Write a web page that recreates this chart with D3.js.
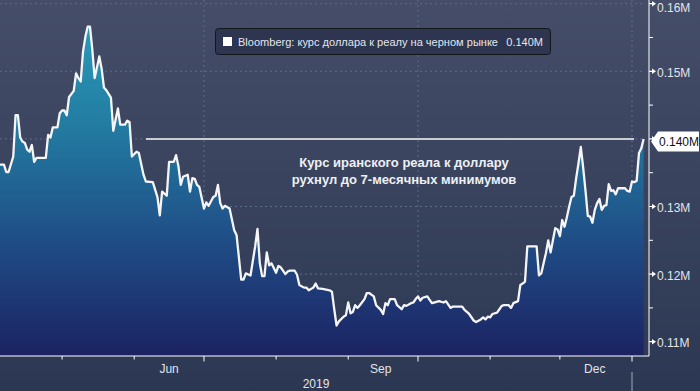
<!DOCTYPE html>
<html>
<head>
<meta charset="utf-8">
<script src="https://cdn.jsdelivr.net/npm/d3@7"></script>
<style>
  html, body { margin: 0; padding: 0; background: #2e3a55; }
  svg { display: block; font-family: "Liberation Sans", Arial, sans-serif; }
</style>
</head>
<body>
<div id="viz"></div>
<script>
const width = 700;
const height = 391;
const plotRight = 645;
const axisX = 649;
const plotBottom = 356;

// black market USD rate in rials, thousands
const dates = [
  '2019-04-04', '2019-04-06', '2019-04-07', '2019-04-08', '2019-04-10', '2019-04-11', '2019-04-12', '2019-04-13',
  '2019-04-14', '2019-04-15', '2019-04-16', '2019-04-17', '2019-04-18', '2019-04-19', '2019-04-20', '2019-04-24',
  '2019-04-25', '2019-04-26', '2019-04-27', '2019-04-29', '2019-04-30', '2019-05-01', '2019-05-02', '2019-05-03',
  '2019-05-04', '2019-05-06', '2019-05-07', '2019-05-08', '2019-05-09', '2019-05-10', '2019-05-11', '2019-05-12',
  '2019-05-13', '2019-05-14', '2019-05-15', '2019-05-17', '2019-05-18', '2019-05-19', '2019-05-20', '2019-05-22',
  '2019-05-23', '2019-05-25', '2019-05-26', '2019-05-28', '2019-05-29', '2019-05-30', '2019-05-31', '2019-06-02',
  '2019-06-03', '2019-06-05', '2019-06-06', '2019-06-09', '2019-06-11', '2019-06-12', '2019-06-13', '2019-06-15',
  '2019-06-16', '2019-06-18', '2019-06-19', '2019-06-20', '2019-06-21', '2019-06-22', '2019-06-24', '2019-06-25',
  '2019-06-26', '2019-06-27', '2019-06-28', '2019-06-29', '2019-07-01', '2019-07-02', '2019-07-03', '2019-07-05',
  '2019-07-06', '2019-07-07', '2019-07-08', '2019-07-09', '2019-07-10', '2019-07-12', '2019-07-14', '2019-07-15',
  '2019-07-17', '2019-07-18', '2019-07-19', '2019-07-21', '2019-07-23', '2019-07-24', '2019-07-25', '2019-07-26',
  '2019-07-27', '2019-07-28', '2019-07-29', '2019-07-30', '2019-07-31', '2019-08-01', '2019-08-02', '2019-08-03',
  '2019-08-05', '2019-08-06', '2019-08-07', '2019-08-09', '2019-08-10', '2019-08-11', '2019-08-13', '2019-08-14',
  '2019-08-15', '2019-08-17', '2019-08-18', '2019-08-19', '2019-08-21', '2019-08-24', '2019-08-25', '2019-08-26',
  '2019-08-27', '2019-08-28', '2019-08-30', '2019-08-31', '2019-09-01', '2019-09-02', '2019-09-03', '2019-09-04',
  '2019-09-05', '2019-09-06', '2019-09-08', '2019-09-09', '2019-09-10', '2019-09-12', '2019-09-13', '2019-09-15',
  '2019-09-16', '2019-09-17', '2019-09-18', '2019-09-19', '2019-09-21', '2019-09-22', '2019-09-24', '2019-09-25',
  '2019-09-26', '2019-09-28', '2019-09-29', '2019-09-30', '2019-10-01', '2019-10-02', '2019-10-03', '2019-10-05',
  '2019-10-06', '2019-10-07', '2019-10-09', '2019-10-10', '2019-10-12', '2019-10-13', '2019-10-15', '2019-10-16',
  '2019-10-20', '2019-10-21', '2019-10-23', '2019-10-25', '2019-10-26', '2019-10-28', '2019-10-29', '2019-10-30',
  '2019-10-31', '2019-11-01', '2019-11-02', '2019-11-04', '2019-11-05', '2019-11-06', '2019-11-07', '2019-11-09',
  '2019-11-10', '2019-11-11', '2019-11-13', '2019-11-14', '2019-11-15', '2019-11-16', '2019-11-17', '2019-11-21',
  '2019-11-22', '2019-11-23', '2019-11-24', '2019-11-25', '2019-11-26', '2019-11-27', '2019-11-28', '2019-11-29',
  '2019-11-30', '2019-12-01', '2019-12-02', '2019-12-03', '2019-12-04', '2019-12-05', '2019-12-06', '2019-12-07',
  '2019-12-08', '2019-12-09', '2019-12-10', '2019-12-11', '2019-12-12', '2019-12-13', '2019-12-14', '2019-12-15',
  '2019-12-16', '2019-12-17', '2019-12-18', '2019-12-19', '2019-12-20', '2019-12-21', '2019-12-22', '2019-12-23',
  '2019-12-24', '2019-12-25', '2019-12-26', '2019-12-29', '2019-12-30', '2019-12-31', '2020-01-01', '2020-01-02',
  '2020-01-03', '2020-01-04', '2020-01-05', '2020-01-06'
];
const rates = [
  136.2, 136.2, 135.1, 135.1, 137.4, 143.5, 143.5, 140.2,
  139.6, 139.4, 138.4, 138.1, 139.1, 136.6, 137.2, 137.2,
  140.6, 140.2, 141.7, 141.7, 143.8, 144.2, 144.2, 143.5,
  146.2, 147.1, 149.7, 149.0, 148.5, 152.9, 155.1, 156.6,
  156.6, 153.2, 149.0, 152.2, 150.4, 147.6, 147.2, 146.1,
  141.2, 144.5, 142.1, 142.1, 142.7, 142.5, 137.4, 138.1,
  137.9, 134.7, 133.7, 133.6, 131.4, 128.7, 132.2, 131.6,
  136.6, 136.6, 137.6, 136.0, 133.2, 134.4, 134.7, 132.2,
  134.2, 134.1, 133.2, 132.9, 129.7, 130.6, 130.1, 131.4,
  131.6, 133.2, 130.5, 129.7, 130.1, 129.7, 126.5, 125.8,
  119.2, 119.2, 120.1, 119.8, 124.1, 126.7, 121.6, 119.7,
  119.7, 123.2, 121.3, 121.6, 120.9, 120.2, 121.2, 121.0,
  120.0, 120.4, 120.5, 120.5, 119.9, 118.4, 118.0, 118.0,
  117.6, 118.0, 118.6, 117.9, 117.8, 117.6, 117.4, 114.8,
  112.4, 113.0, 113.7, 113.9, 115.8, 114.2, 114.4, 115.4,
  115.0, 115.4, 116.3, 117.2, 117.2, 116.7, 115.4, 114.7,
  114.1, 115.7, 115.4, 116.3, 116.3, 115.4, 114.8, 115.4,
  115.3, 115.7, 115.8, 116.3, 116.7, 116.1, 116.5, 116.7,
  116.2, 115.7, 115.9, 116.0, 115.8, 116.0, 115.0, 115.2,
  115.2, 114.7, 114.1, 113.1, 112.9, 113.3, 113.6, 113.3,
  113.7, 113.6, 114.1, 114.3, 114.8, 115.3, 115.4, 115.4,
  115.0, 115.7, 116.0, 118.4, 118.6, 118.9, 124.1, 124.1,
  119.8, 120.1, 121.6, 123.1, 125.0, 123.2, 125.0, 126.8,
  126.6, 125.6, 128.0, 127.0, 128.4, 130.0, 131.4, 131.6,
  134.2, 136.4, 138.8, 135.8, 132.4, 128.6, 128.5, 127.6,
  129.5, 130.5, 131.1, 129.5, 130.1, 130.2, 133.3, 132.3,
  132.4, 131.8, 132.7, 132.7, 132.3, 132.2, 133.7, 133.6,
  133.8, 137.9, 138.6, 140.0
];

const yTickValues = [110, 120, 130, 140, 150, 160];
const monthLabels = ['Jun', 'Sep', 'Dec'];
const monthLabelDates = ['2019-06-16', '2019-09-15', '2019-12-16'];
const yearLabel = '2019';
const legendText = 'Bloomberg: курс доллара к реалу на черном рынке';
const noteLines = ['Курс иранского реала к доллару', 'рухнул до 7-месячных минимумов'];

const parseDate = d3.utcParse('%Y-%m-%d');
const fmtM = (v) => (v / 1000).toFixed(2) + 'M';
const fmtLast = (v) => (v / 1000).toFixed(3) + 'M';

const data = dates.map((d, i) => ({ date: parseDate(d), value: rates[i] }));
const last = data[data.length - 1];

const svg = d3
  .select('#viz')
  .append('svg')
  .attr('width', width)
  .attr('height', height);

const defs = svg.append('defs');

const bg = defs
  .append('linearGradient')
  .attr('id', 'bg')
  .attr('x1', 0).attr('y1', 0).attr('x2', 0).attr('y2', 1);
bg.append('stop').attr('offset', 0).attr('stop-color', '#454d68');
bg.append('stop').attr('offset', 1).attr('stop-color', '#2c3853');

const fillGrad = defs
  .append('linearGradient')
  .attr('id', 'fill')
  .attr('gradientUnits', 'userSpaceOnUse')
  .attr('x1', 0).attr('y1', 20).attr('x2', 0).attr('y2', plotBottom);
fillGrad.append('stop').attr('offset', 0).attr('stop-color', '#2a9dba');
fillGrad.append('stop').attr('offset', 0.35).attr('stop-color', '#22779f');
fillGrad.append('stop').attr('offset', 0.68).attr('stop-color', '#1f4a84');
fillGrad.append('stop').attr('offset', 1).attr('stop-color', '#1c2262');

defs
  .append('clipPath')
  .attr('id', 'clip')
  .append('rect')
  .attr('x', 0).attr('y', 0)
  .attr('width', plotRight).attr('height', plotBottom);

svg.append('rect').attr('width', width).attr('height', height).attr('fill', 'url(#bg)');

const xScale = d3
  .scaleUtc()
  .domain([parseDate('2019-04-01'), parseDate('2020-01-01')])
  .range([-7.7, 632]);

const yScale = d3.scaleLinear().domain([110, 160]).range([341.7, 3.7]);

// gridlines
const grid = svg.append('g').attr('stroke', '#5d6c88').attr('stroke-dasharray', '2,3');
grid
  .selectAll('line.h')
  .data(yTickValues)
  .enter()
  .append('line')
  .attr('x1', 0).attr('x2', plotRight)
  .attr('y1', (d) => yScale(d)).attr('y2', (d) => yScale(d));

const months = d3.utcMonths(parseDate('2019-04-01'), parseDate('2020-01-02')).filter((d) => xScale(d) >= 0);
const quarters = months.filter((d) => d.getUTCMonth() % 3 === 0);
grid
  .selectAll('line.v')
  .data(quarters)
  .enter()
  .append('line')
  .attr('x1', (d) => xScale(d)).attr('x2', (d) => xScale(d))
  .attr('y1', 0).attr('y2', plotBottom);

// area + line
const plot = svg.append('g').attr('clip-path', 'url(#clip)');
const area = d3
  .area()
  .x((d) => xScale(d.date))
  .y0(plotBottom)
  .y1((d) => yScale(d.value));
const line = d3
  .line()
  .x((d) => xScale(d.date))
  .y((d) => yScale(d.value));

plot.append('path').datum(data).attr('d', area).attr('fill', 'url(#fill)');

// last value reference line
svg
  .append('line')
  .attr('x1', 146).attr('x2', 634)
  .attr('y1', yScale(last.value)).attr('y2', yScale(last.value))
  .attr('stroke', '#c9ccd3')
  .attr('stroke-width', 2);

plot
  .append('path')
  .datum(data)
  .attr('d', line)
  .attr('fill', 'none')
  .attr('stroke', '#f5f5f5')
  .attr('stroke-width', 2.3)
  .attr('stroke-linejoin', 'round');

// right axis
const axisG = svg.append('g').attr('fill', '#fff').attr('stroke', '#fff');
axisG.append('line').attr('x1', axisX).attr('x2', axisX).attr('y1', 0).attr('y2', plotBottom);
axisG
  .selectAll('line.minor')
  .data(d3.range(115, 160, 10))
  .enter()
  .append('line')
  .attr('x1', axisX).attr('x2', axisX + 4)
  .attr('y1', (d) => yScale(d)).attr('y2', (d) => yScale(d));
axisG
  .selectAll('path.major')
  .data(yTickValues)
  .enter()
  .append('path')
  .attr('stroke', 'none')
  .attr('d', (d) => {
    const y = yScale(d);
    return `M${axisX},${y - 0.6}H${axisX + 3}L${axisX + 3},${y - 2.8}L${axisX + 7},${y}L${axisX + 3},${y + 2.8}L${axisX + 3},${y + 0.6}H${axisX}Z`;
  });

svg
  .append('g')
  .selectAll('text')
  .data(yTickValues.filter((d) => d !== 140))
  .enter()
  .append('text')
  .attr('x', axisX + 8)
  .attr('y', (d) => Math.max(yScale(d) + 5.5, 12))
  .attr('fill', '#e2e4ea')
  .attr('font-size', 12)
  .text(fmtM);

// last value tag
const tagY = yScale(last.value) + 2.5;
svg
  .append('path')
  .attr('d', `M651,${tagY}L658,${tagY - 10}H699V${tagY + 10}H658Z`)
  .attr('fill', '#fff');
svg
  .append('text')
  .attr('x', 659)
  .attr('y', tagY + 4.5)
  .attr('fill', '#111')
  .attr('font-size', 12)
  .text(fmtLast(last.value));

// bottom axis
const bottom = svg.append('g').attr('stroke', '#fff');
bottom.append('line').attr('x1', 0).attr('x2', axisX).attr('y1', plotBottom).attr('y2', plotBottom);
bottom
  .selectAll('line.tick')
  .data(months)
  .enter()
  .append('line')
  .attr('x1', (d) => xScale(d)).attr('x2', (d) => xScale(d))
  .attr('y1', plotBottom)
  .attr('y2', (d) => plotBottom + (d.getUTCMonth() % 3 === 0 ? 5.5 : 3.5));

svg
  .append('line')
  .attr('x1', xScale(parseDate('2020-01-01'))).attr('x2', xScale(parseDate('2020-01-01')))
  .attr('y1', 372).attr('y2', height)
  .attr('stroke', '#a3aab9');

svg
  .append('g')
  .selectAll('text')
  .data(monthLabels)
  .enter()
  .append('text')
  .attr('x', (d, i) => xScale(parseDate(monthLabelDates[i])))
  .attr('y', 373)
  .attr('text-anchor', 'middle')
  .attr('fill', '#e2e4ea')
  .attr('font-size', 12)
  .text((d) => d);

svg
  .append('text')
  .attr('x', (0 + xScale(parseDate('2020-01-01'))) / 2)
  .attr('y', 388)
  .attr('text-anchor', 'middle')
  .attr('fill', '#e2e4ea')
  .attr('font-size', 12)
  .text(yearLabel);

// legend
const legend = svg.append('g');
legend
  .append('rect')
  .attr('x', 215.5).attr('y', 28.5)
  .attr('width', 335).attr('height', 26)
  .attr('rx', 3)
  .attr('fill', '#2d3550')
  .attr('stroke', '#14161e');
legend
  .append('rect')
  .attr('x', 223).attr('y', 37)
  .attr('width', 9).attr('height', 9)
  .attr('fill', '#fff');
legend
  .append('text')
  .attr('x', 238)
  .attr('y', 46)
  .attr('fill', '#e4e6ec')
  .attr('font-size', 11.2)
  .attr('textLength', 260)
  .attr('lengthAdjust', 'spacingAndGlyphs')
  .text(legendText);
legend
  .append('text')
  .attr('x', 543)
  .attr('y', 46)
  .attr('text-anchor', 'end')
  .attr('fill', '#e4e6ec')
  .attr('font-size', 11)
  .text(fmtLast(last.value));

// annotation
svg
  .append('g')
  .selectAll('text')
  .data(noteLines)
  .enter()
  .append('text')
  .attr('x', 404)
  .attr('y', (d, i) => 167 + i * 17)
  .attr('text-anchor', 'middle')
  .attr('fill', '#eef0f5')
  .attr('font-size', 13)
  .attr('font-weight', 'bold')
  .text((d) => d);
</script>
</body>
</html>
